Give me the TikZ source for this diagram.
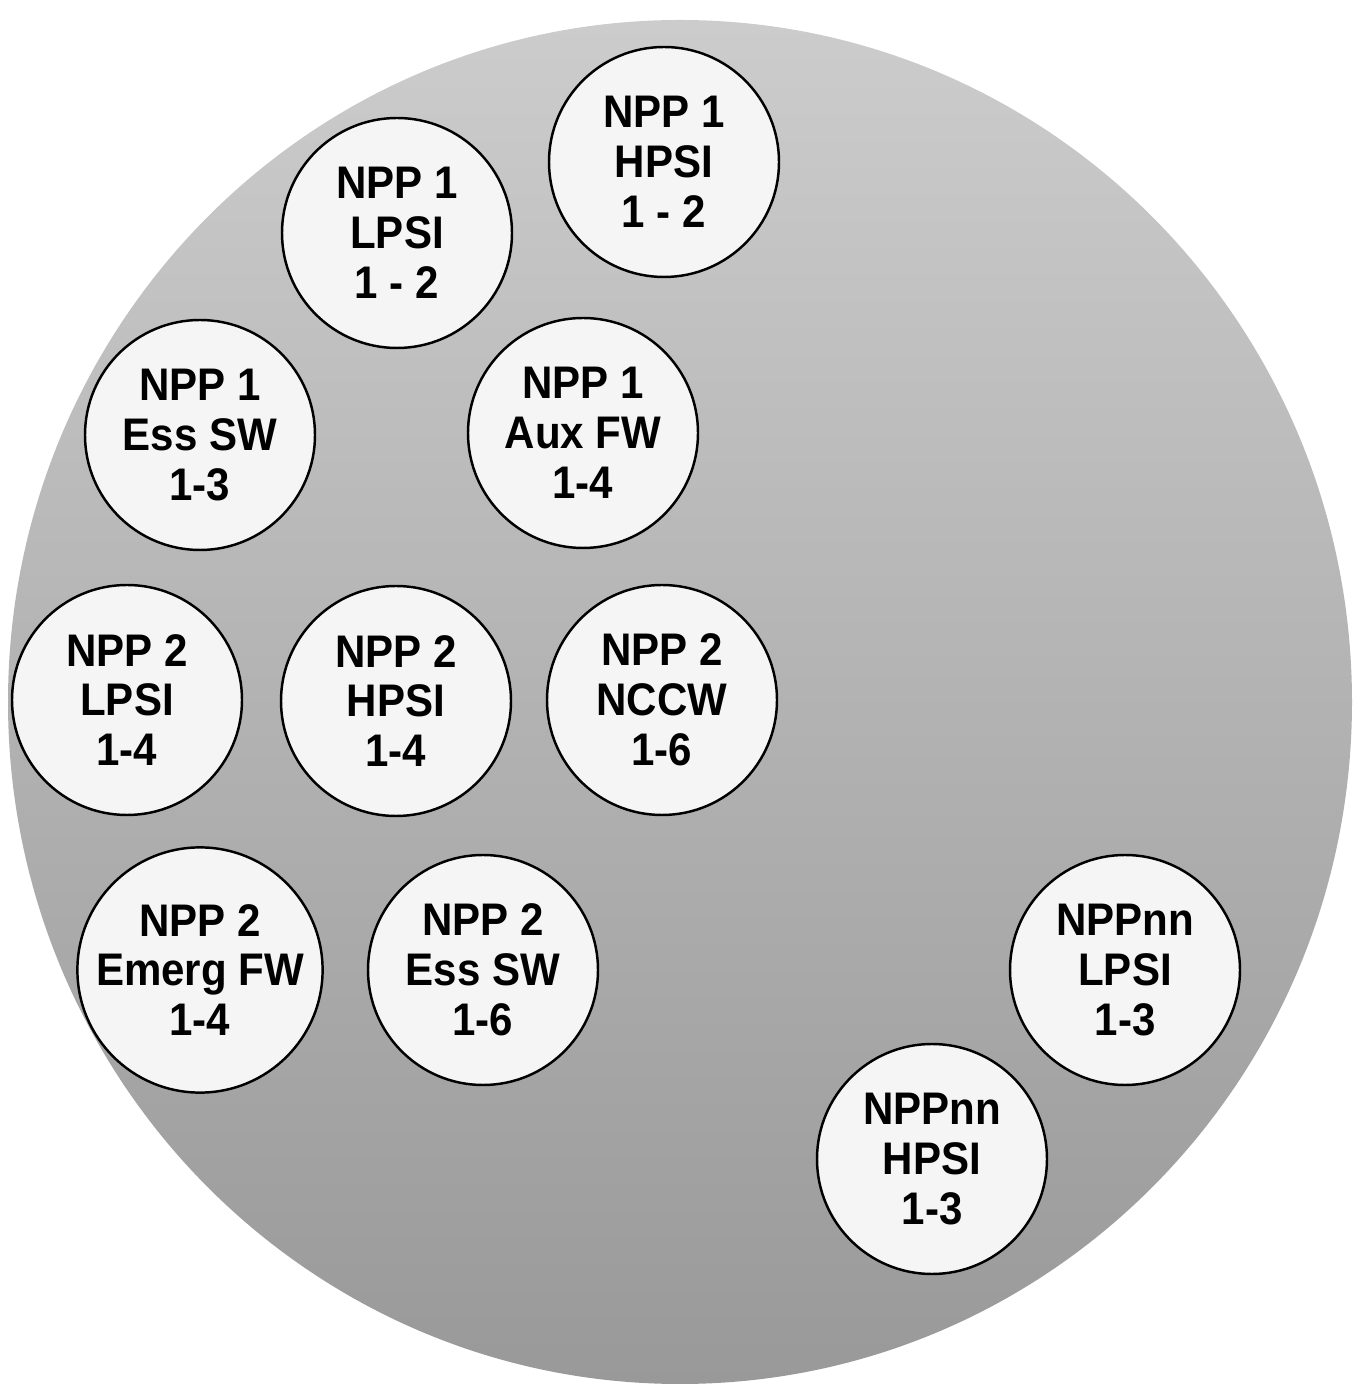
\documentclass[tikz,border=0pt]{standalone}
\usepackage{fontspec}
\newfontfamily\trainfont[FakeStretch=0.92]{Liberation Sans}

\begin{document}
\begin{tikzpicture}[
    train/.style={circle, draw=black, line width=0.7pt, fill=black!4,
        minimum size=2.3cm, inner sep=0pt, align=center,
        font=\trainfont\bfseries\fontsize{13}{14.2}\selectfont}
]
    \useasboundingbox (0,0) rectangle (13.61,13.85);

    % the shaded plant disc
    \shade[top color=black!20, bottom color=black!40]
        (6.80,6.83) ellipse [x radius=6.72cm, y radius=6.82cm];

    % unit 1 trains
    \node[train] (hpsiA)  at (6.64,12.23) {NPP 1\\HPSI\\1 - 2};
    \node[train] (lpsiA)  at (3.97,11.52) {NPP 1\\LPSI\\1 - 2};
    \node[train] (esswA)  at (2.00,9.50) {NPP 1\\Ess SW\\1-3};
    \node[train] (auxfwA) at (5.83,9.52) {NPP 1\\Aux FW\\1-4};

    % unit 2 trains
    \node[train] (lpsiB)  at (1.27,6.85) {NPP 2\\LPSI\\1-4};
    \node[train] (hpsiB)  at (3.96,6.84) {NPP 2\\HPSI\\1-4};
    \node[train] (nccwB)  at (6.62,6.85) {NPP 2\\NCCW\\1-6};
    \node[train] (emfwB)  at (2.00,4.15) {NPP 2\\Emerg FW\\1-4};
    \node[train] (esswB)  at (4.83,4.15) {NPP 2\\Ess SW\\1-6};

    % unit nn trains
    \node[train] (lpsiN)  at (11.25,4.15) {NPPnn\\LPSI\\1-3};
    \node[train] (hpsiN)  at (9.32,2.26) {NPPnn\\HPSI\\1-3};
\end{tikzpicture}
\end{document}
